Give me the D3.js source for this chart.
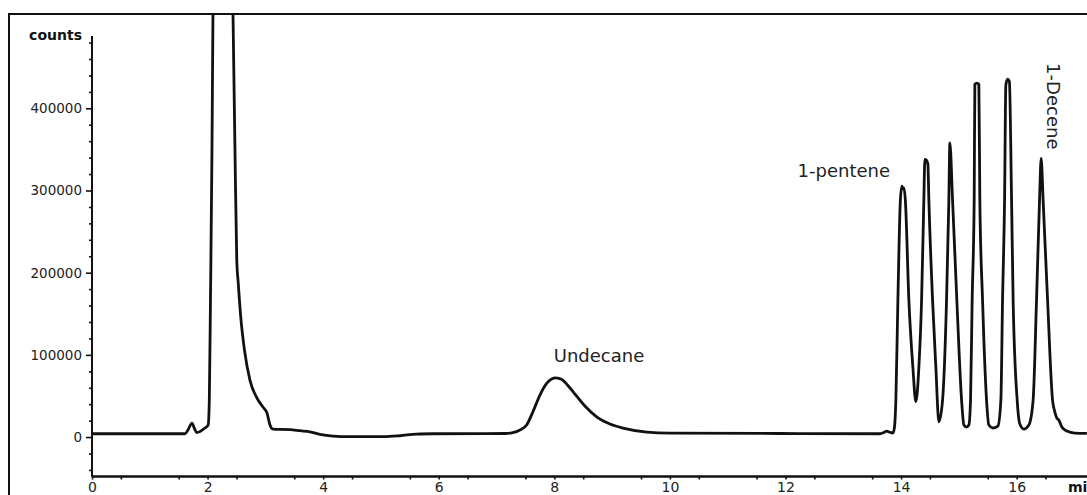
<!DOCTYPE html>
<html>
<head>
<meta charset="utf-8">
<script src="https://cdn.jsdelivr.net/npm/d3@7"></script>
<style>
  html, body { margin: 0; padding: 0; background: #fff; overflow: hidden; }
  svg { display: block; font-family: "DejaVu Sans", Verdana, sans-serif; }
</style>
</head>
<body>
<svg id="chart" width="1087" height="495"></svg>
<script>
// ---- data ----
const times = [
  0, 1.61, 1.66, 1.73, 1.77, 1.81, 1.955, 2.01, 2.03, 2.05, 2.076, 2.093, 2.26,
  2.44, 2.474, 2.505, 2.531, 2.574, 2.638, 2.734, 2.855, 2.958, 3.03, 3.05, 3.08, 3.131,
  3.426, 3.599, 3.772, 3.945, 4.17, 4.464, 5.035, 5.329, 5.618, 5.9, 7.15, 7.284,
  7.405, 7.521, 7.63, 7.751, 7.867, 7.953, 8.028, 8.132, 8.235, 8.322, 8.529, 8.737,
  8.962, 9.187, 9.602, 10.0, 11.9, 13.63,
  13.70, 13.75, 13.80, 13.858, 13.884, 13.91, 13.945, 13.988, 14.014, 14.03,
  14.05, 14.074, 14.135, 14.204, 14.256, 14.308, 14.355, 14.394, 14.412, 14.438,
  14.464, 14.481, 14.545, 14.602, 14.654, 14.718, 14.787, 14.827, 14.844, 14.891,
  14.965, 15.047, 15.087, 15.13, 15.173, 15.202, 15.23, 15.265, 15.277, 15.311,
  15.346, 15.363, 15.41, 15.479, 15.519, 15.588, 15.675, 15.727, 15.756, 15.791,
  15.813, 15.843, 15.874, 15.912, 15.939, 16.009, 16.055, 16.125, 16.211, 16.285,
  16.344, 16.396, 16.424, 16.458, 16.535, 16.621, 16.661, 16.696, 16.73, 16.782,
  16.869, 17.007, 17.215
];
const counts = [
  4000, 4000, 8500, 17000, 11000, 5500, 11000, 14600, 45000, 166700, 349000, 514600, 1400000,
  514600, 349000, 215300, 187000, 146000, 106000, 69000, 47400, 36500, 29000, 23000, 14600, 9700,
  9100, 7700, 6400, 3300, 1200, 400, 400, 1600, 3650, 4000, 4300, 5300,
  8500, 14600, 30800, 51100, 65300, 70600, 72100, 70000, 62700, 55400, 37700, 24300,
  15800, 10900, 6100, 4900, 4300, 4000,
  5500, 7300, 6000, 4900, 10900, 45000, 166700, 288300, 305300, 302000,
  303300, 288300, 166700, 85000, 43000, 85000, 166700, 288300, 337800, 337000,
  332000, 288300, 166700, 85000, 18600, 45000, 166700, 288300, 358000, 288300,
  166700, 45000, 14600, 12200, 14600, 45000, 166700, 288300, 429400, 430700,
  429400, 288300, 166700, 45000, 14600, 11000, 13400, 45000, 166700, 288300,
  428200, 435500, 433000, 288300, 166700, 45000, 15800, 9700, 14600, 45000,
  166700, 288300, 339000, 288300, 166700, 45000, 30400, 23100, 20700, 12200,
  7300, 4900, 4500
];
const xMajorTicks = [0, 2, 4, 6, 8, 10, 12, 14, 16];
const xMinorTicks = d3.range(0.5, 17, 1);
const yMajorTicks = [0, 100000, 200000, 300000, 400000];
const yMinorTicks = d3.range(-40000, 500000, 20000).filter(v => v % 100000 !== 0);
const labelTexts = ["Undecane", "1-pentene", "1-Decene"];
const labelTimes = [7.99, 12.21, 16.52];
const labelCounts = [91200, 316300, 455000];
const labelRotations = [0, 0, 90];
const xTitle = "min";
const yTitle = "counts";

// ---- drawing ----
const svg = d3.select("#chart");
const W = 1087, H = 495;
const frame = { x: 9, y: 14 };
const x = d3.scaleLinear().domain([0, 17.2]).range([92, 1086]);
const y = d3.scaleLinear().domain([-48000, 488000]).range([476.5, 36]);
const ink = "#111";
const textInk = "#222";

svg.append("rect").attr("width", W).attr("height", H).attr("fill", "#fff");

// outer frame
svg.append("rect")
  .attr("x", frame.x).attr("y", frame.y)
  .attr("width", W + 20).attr("height", H + 20)
  .attr("fill", "none").attr("stroke", ink).attr("stroke-width", 2);

// clip for trace
svg.append("defs").append("clipPath").attr("id", "plotclip")
  .append("rect").attr("x", 92).attr("y", frame.y + 1)
  .attr("width", W - 92).attr("height", y(-48000) - frame.y - 1);

// Y axis
const yMinor = d3.axisLeft(y).tickValues(yMinorTicks).tickSize(3).tickFormat("");
const yMajor = d3.axisLeft(y).tickValues(yMajorTicks).tickSize(6).tickPadding(4)
  .tickFormat(d3.format("d"));
const gyMinor = svg.append("g").attr("transform", "translate(92,0)").call(yMinor);
const gy = svg.append("g").attr("transform", "translate(92,0)").call(yMajor);
[gy, gyMinor].forEach(g => {
  g.select(".domain").attr("stroke", ink).attr("stroke-width", 2)
    .attr("d", `M0,${y(-48000)}V36`);
  g.selectAll(".tick line").attr("stroke", ink).attr("stroke-width", 1.6);
});
gy.selectAll(".tick text").attr("fill", textInk)
  .style("font-size", "13.5px").style("font-family", "DejaVu Sans, Verdana, sans-serif");

// X axis
const xMinor = d3.axisBottom(x).tickValues(xMinorTicks).tickSize(3).tickFormat("");
const xMajor = d3.axisBottom(x).tickValues(xMajorTicks).tickSize(3).tickPadding(6)
  .tickFormat(d3.format("d"));
const xAxisY = y(-48000);
const gxMinor = svg.append("g").attr("transform", `translate(0,${xAxisY})`).call(xMinor);
const gx = svg.append("g").attr("transform", `translate(0,${xAxisY})`).call(xMajor);
[gx, gxMinor].forEach(g => {
  g.select(".domain").attr("stroke", ink).attr("stroke-width", 2)
    .attr("d", `M92,0H${W}`);
  g.selectAll(".tick line").attr("stroke", ink).attr("stroke-width", 1.6);
});
gx.selectAll(".tick text").attr("fill", textInk).attr("dy", null).attr("y", 15.5)
  .style("font-size", "14px").style("font-family", "DejaVu Sans, Verdana, sans-serif");

// axis titles
svg.append("text").attr("x", 82).attr("y", 40).attr("text-anchor", "end")
  .attr("font-weight", "bold").attr("font-size", 14).attr("fill", ink).text(yTitle);
svg.append("text").attr("x", 1068).attr("y", 492).attr("text-anchor", "start")
  .attr("font-weight", "bold").attr("font-size", 14).attr("fill", ink).text(xTitle);

// trace
const pts = times.map((t, i) => [t, counts[i]]);
const line = d3.line().x(d => x(d[0])).y(d => y(d[1])).curve(d3.curveMonotoneX);
svg.append("path").datum(pts)
  .attr("clip-path", "url(#plotclip)")
  .attr("d", line)
  .attr("fill", "none").attr("stroke", ink).attr("stroke-width", 2.8)
  .attr("stroke-linejoin", "round");

// peak labels
labelTexts.forEach((txt, i) => {
  const px = x(labelTimes[i]), py = y(labelCounts[i]);
  svg.append("text")
    .attr("transform", `translate(${px},${py}) rotate(${labelRotations[i]})`)
    .attr("font-size", 18).attr("fill", textInk).text(txt);
});
</script>
</body>
</html>
